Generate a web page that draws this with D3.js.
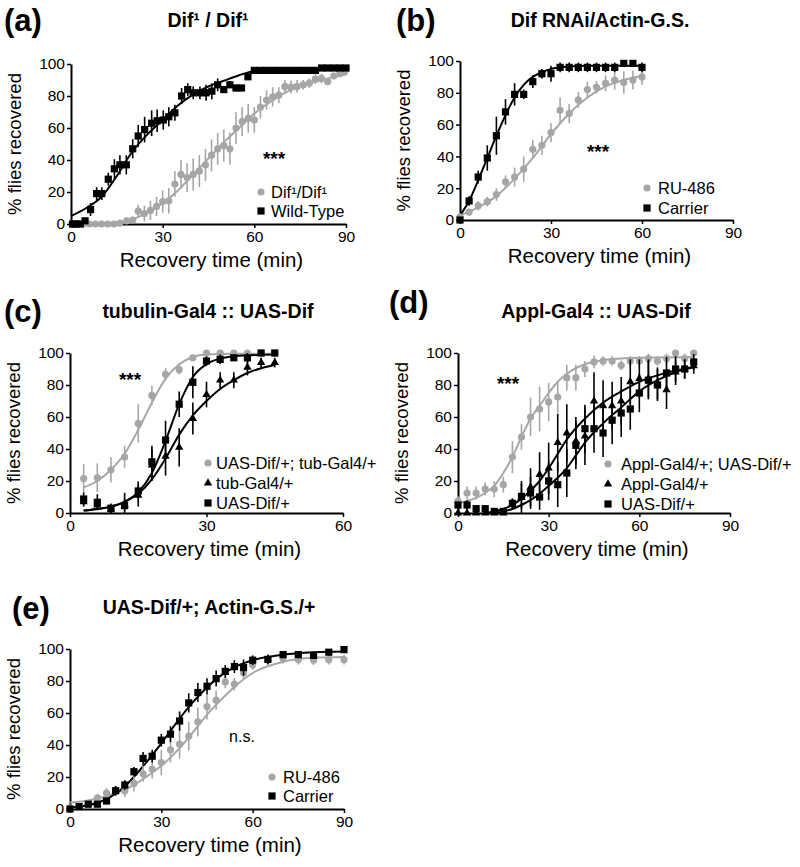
<!DOCTYPE html>
<html><head><meta charset="utf-8">
<script src="https://cdn.jsdelivr.net/npm/d3@7"></script>
<style>body{margin:0;background:#fff}</style>
</head><body>
<script>
// ---------- DATA ----------
// Panel (a) Dif1/Dif1
const aWT_x = [0.5,1.6,3,4.6,6.4,8.4,10.1,12.2,14.2,16,18.1,20.2,22,24.1,26.4,28.2,30.2,32,34,36.2,38.2,40,42.2,44.2,46.1,48,50,52,54,55.8,57.9,60,62,64,66,68,70,72,74,76,78,80,82,84,86,88,90];
const aWT_y = [0,0,0,2,9,19,19,28,34.5,37,37,47,55,59,63,64.5,65,67,69.5,80,84,82,82,82,83,87,84,87,85,85,92,96,96,96,96,96,96,96,96,96,96,96,97.5,97.5,97.5,97.5,97.5];
const aWT_e = [0,0,0,1,4,4,4,4,6,6,6,6,7,8,8,7,6,6,5,5,4,4,4,5,5,4,2,2,2,2,2,0,0,0,0,0,0,0,0,0,0,0,0,0,0,0,0];
const aDif_x = [0.5,2,4,6,8,10,12,14,16,18.2,20.2,22,24,26,28,30,32,34,36,38,40,42,44,46,48,50,52,54,56,58,60,62,64,66,68,70,72,74,76,78,80,82,84,86,88,89.5];
const aDif_y = [0,0,0,0,0,0,0,0,0.5,2,2.5,8,6.5,8.5,11,14,14.5,25,31,29,31,33,37,43,47,49,47,60,64,66,65,73,77.5,79.5,80.5,86,85.5,86,87,88,90.5,91,89,92.5,94,95];
const aDif_e = [0,0,0,0,0,0,0,0,1,2,2,4,5,6,6,7,8,8,9,9,10,10,10,10,10,10,10,10,9,9,8,7,6,6,5,4,4,4,3,3,3,3,2,2,2,2];
const aWT_fx = [0,5,10,15,20,25,30,35,40,45,50,55,60,70,80,90];
const aWT_fy = [5,10,17,30,45,56,65,74,81,86,89.5,93,95.5,96.5,97,97.5];
const aDif_fx = [0,10,15,20,25,30,35,40,45,50,55,60,65,70,75,80,85,90];
const aDif_fy = [0,0.3,1,3,7,13,21,31,41,51,60,69,76,82,86,89,91.5,93.5];

// Panel (b) Dif RNAi/Actin-G.S.
const b_x = [0,3,6,9,12,15,18,21,24,27,30,33,36,39,42,45,48,51,54,57,60];
const bCar_y = [0,12,27,39,53,68,79,79,87,92,92,96,96,96,96,96,96,96,98.5,98.5,96];
const bCar_e = [1,3,4,8,12,8,7,3,4,3,5,3,3,3,3,3,3,3,2,2,3];
const bRU_y = [2,5,9,11.5,16,24,27,32,44.5,47,55,69,67,75.5,82,83.5,86,88,86.5,88,90];
const bRU_e = [1,2,3,3,4,4,6,8,6,6,6,8,6,5,5,4,5,6,7,6,5];
const bCar_fx = [0,3,6,9,12,15,18,21,24,27,30,36,42,50,60];
const bCar_fy = [3,12,25,39,53,66,77,85,90,93,95,96.5,97,97,97];
const bRU_fx = [0,6,12,18,24,30,36,42,48,54,60];
const bRU_fy = [3,8,15,26,39,54,67,77,84,88,90.5];

// Panel (c) tubulin-Gal4 :: UAS-Dif
const c_x = [3,6,9,12,15,18,21,24,27,30,33,36,39,42,45];
const cExp_y = [21.5,22,27,35,56,73.5,86.7,89.6,97,100,100,100,100,100,100];
const cExp_e = [9,9,8,7,12,6,4,3,1,0,0,0,0,0,0];
const cTub_y = [7,5,2,5,11,30,35.4,41,59,74,83,83,91,94,94];
const cTub_e = [3,3,2,4,7,10,12,12,10,8,5,5,5,3,3];
const cUAS_y = [8.75,6.7,3,4.6,13.75,32,45.6,68,81.7,95,96,97,97,100,100];
const cUAS_e = [4,5,3,8,6,10,12,8,10,3,3,2,3,2,2];
const cExp_fx = [3,6,9,12,15,18,21,24,27,30,36,45];
const cExp_fy = [16,20,27,37,52,69,84,93,97.5,99,99.5,99.5];
const cTub_fx = [3,6,9,12,15,18,21,24,27,30,33,36,39,42,45];
const cTub_fy = [1.5,2.5,4,7,12,21,34,49,61,70,77.5,83,87.5,90.5,92.5];
const cUAS_fx = [3,6,9,12,15,18,21,24,27,30,33,36,45];
const cUAS_fy = [1.5,2.5,4,7,13,25,45,68,85,93,96.5,98,99];

// Panel (d) Appl-Gal4 :: UAS-Dif
const d_x = [0,3,6,9,12,15,18,21,24,27,30,33,36,39,42,45,48,51,54,57,60,63,66,69,72,75,78];
const dExp_y = [7.5,12.5,12.5,15,15,17.7,35,47.5,60,65,69.4,72.5,84.6,84.6,90,94.4,95,95,92.3,95,95,96.5,95,96.5,100,96.5,100];
const dExp_e = [3,4,4,4,5,5,10,8,12,14,12,10,8,8,5,4,3,3,3,3,3,3,3,3,2,3,2];
const dApp_y = [0,0,0,0,0,0,6,10,16,24,28,44,50,45,48,70,67,67,70,82,84,84,81,77,88,90,92];
const dApp_e = [1,1,1,1,1,1,3,10,12,14,16,18,18,15,18,18,16,15,15,14,12,12,10,12,8,6,5];
const dUAS_y = [5,5,2.7,2.7,1,1,6,10.4,12.5,10,20,17.7,25,42.3,52.7,52.7,50,58,62.5,65,75,83,80,87.5,90,90,94.4];
const dUAS_e = [2,3,2,2,1,1,3,8,10,8,12,14,15,15,15,15,15,15,15,13,12,12,10,10,8,6,5];
const dExp_fx = [0,3,6,9,12,15,18,21,24,27,30,33,36,42,48,54,60,78];
const dExp_fy = [6,7.5,9.5,12.5,17,25,35,47.5,59,67,75,82,87,93,95.5,96.5,97,97.5];
const dApp_fx = [9,12,15,18,21,24,27,30,33,36,42,48,54,60,66,72,78];
const dApp_fy = [0,1,2.5,5,9,14,20,28,37,46,59,69,76,82,86,89,91];
const dUAS_fx = [12,15,18,21,24,27,30,33,36,39,42,48,54,60,66,72,78];
const dUAS_fy = [0,1,2.5,5,8,12,17,22,28,36,44,56,66,76,83,88,91.5];

// Panel (e) UAS-Dif/+; Actin-G.S./+
const e_x = [0,3,6,9,12,15,18,21,24,27,30,33,36,39,42,45,48,51,54,57,60,65,70,75,80,85,90];
const eCar_y = [0,1.5,3,3,5,11.4,15,23.3,31.6,33,43,46.8,55,66.3,72.8,76.7,81.5,86,89,88.4,93,93.5,96.5,96.5,96,98,99.6];
const eCar_e = [1,1,1,1,2,3,3,3,4,4,4,5,6,6,6,5,5,4,4,5,3,3,2,2,2,2,1];
const eRU_y = [0.5,1.5,3,7,10,11.4,11.4,16,22,25,29,37,40.5,45.5,54.5,64,68,79.4,78,85,90,93,94,93.3,93,93.3,93.3];
const eRU_e = [1,1,1,2,3,3,4,5,5,6,8,8,9,9,9,8,6,4,4,4,3,3,3,3,3,3,3];
const eCar_fx = [0,5,10,15,20,25,30,35,40,45,50,55,60,70,80,90];
const eCar_fy = [1,2,4.5,9.5,18,29,41,54,66,76,84,89.5,93,96.5,98,98.5];
const eRU_fx = [0,5,10,15,20,25,30,35,40,45,50,55,60,70,80,90];
const eRU_fy = [4,5,7,10,14,20,27,36,47,59,69,78,85,92,94.5,95];

const xTicks90 = [0,30,60,90];
const xTicks60 = [0,30,60];
const yTicks = [0,20,40,60,80,100];

// ---------- DRAW ----------
const W = 800, H = 867;
const FONT = "'Liberation Sans', Arial, Helvetica, sans-serif";
const GRAY = "#a6a6a6", BLACK = "#000";
const svg = d3.select("body").append("svg").attr("width", W).attr("height", H)
  .style("font-family", FONT);

function sym(g, shape, cx, cy, color) {
  if (shape === "circle") {
    g.append("circle").attr("cx", cx).attr("cy", cy).attr("r", 3.6).attr("fill", color);
  } else if (shape === "square") {
    g.append("rect").attr("x", cx - 3.6).attr("y", cy - 3.6).attr("width", 7.2).attr("height", 7.2).attr("fill", color);
  } else {
    g.append("path").attr("transform", `translate(${cx},${cy})`)
      .attr("d", d3.symbol().type(d3.symbolTriangle).size(30)()).attr("fill", color);
  }
}

function panel(cfg) {
  const g = svg.append("g");
  const x = d3.scaleLinear().domain([0, cfg.xmax]).range([cfg.left, cfg.right]);
  const y = d3.scaleLinear().domain([0, 100]).range([cfg.bottom, cfg.top]);

  // panel letter and title
  g.append("text").attr("x", cfg.letterX).attr("y", cfg.letterY)
    .attr("font-size", 31).attr("font-weight", "bold").text(cfg.letter);
  g.append("text").attr("x", cfg.titleX).attr("y", cfg.titleY).attr("text-anchor", "middle")
    .attr("font-size", 19.5).attr("font-weight", "bold").text(cfg.title);

  // axes
  const ya = g.append("g").attr("transform", `translate(${cfg.left},0)`)
    .call(d3.axisLeft(y).tickValues(yTicks).tickSize(4).tickSizeOuter(0).tickPadding(2));
  const xa = g.append("g").attr("transform", `translate(0,${cfg.bottom})`)
    .call(d3.axisBottom(x).tickValues(cfg.xticks).tickSize(4).tickSizeOuter(0).tickPadding(3));
  [ya, xa].forEach(a => {
    a.select(".domain").attr("stroke-width", 2).attr("stroke", "#000");
    a.selectAll(".tick line").attr("stroke-width", 1.5).attr("stroke", "#000");
    a.selectAll("text").attr("font-size", 15.5).attr("font-family", FONT).attr("fill", "#000");
  });

  g.append("text").attr("x", (cfg.left + cfg.right) / 2 + 3).attr("y", cfg.bottom + 43)
    .attr("text-anchor", "middle").attr("font-size", 20.5).text("Recovery time (min)");
  g.append("text").attr("transform", `translate(${cfg.left - 50},${(cfg.top + cfg.bottom) / 2}) rotate(-90)`)
    .attr("text-anchor", "middle").attr("font-size", 18.5).text("% flies recovered");

  // series: fit curves, error bars, points
  const line = d3.line().x(d => x(d[0])).y(d => y(d[1])).curve(d3.curveMonotoneX);
  cfg.series.forEach(s => {
    g.append("path").datum(d3.zip(s.fx, s.fy)).attr("d", line)
      .attr("fill", "none").attr("stroke", s.color).attr("stroke-width", 2);
  });
  cfg.series.forEach(s => {
    s.xs.forEach((xv, i) => {
      const e = s.e[i];
      if (e > 0) {
        g.append("line").attr("x1", x(xv)).attr("x2", x(xv))
          .attr("y1", y(Math.min(100, s.ys[i] + e))).attr("y2", y(Math.max(0, s.ys[i] - e)))
          .attr("stroke", s.color).attr("stroke-width", 1.6);
      }
    });
    s.xs.forEach((xv, i) => sym(g, s.shape, x(xv), y(s.ys[i]), s.color));
  });

  // legend
  cfg.legend.items.forEach((it, i) => {
    const cy = cfg.legend.y + i * cfg.legend.dy;
    sym(g, it.shape, cfg.legend.x, cy, it.color);
    g.append("text").attr("x", cfg.legend.x + cfg.legend.tx).attr("y", cy + 6)
      .attr("font-size", 16.5).text(it.label);
  });

  // significance
  g.append("text").attr("x", cfg.sig.x).attr("y", cfg.sig.y).attr("text-anchor", "middle")
    .attr("font-size", cfg.sig.bold ? 19 : 16).attr("font-weight", cfg.sig.bold ? "bold" : "normal")
    .text(cfg.sig.text);
}

panel({
  letter: "(a)", letterX: 4, letterY: 31, title: "Dif¹ / Dif¹", titleX: 208, titleY: 27,
  left: 71, right: 346, top: 64, bottom: 224, xmax: 90, xticks: xTicks90,
  series: [
    {xs: aDif_x, ys: aDif_y, e: aDif_e, fx: aDif_fx, fy: aDif_fy, color: GRAY, shape: "circle"},
    {xs: aWT_x, ys: aWT_y, e: aWT_e, fx: aWT_fx, fy: aWT_fy, color: BLACK, shape: "square"}
  ],
  legend: {x: 261, y: 192, dy: 19, tx: 10, items: [
    {shape: "circle", color: GRAY, label: "Dif¹/Dif¹"},
    {shape: "square", color: BLACK, label: "Wild-Type"}]},
  sig: {x: 274, y: 165, text: "***", bold: true}
});

panel({
  letter: "(b)", letterX: 396, letterY: 31, title: "Dif RNAi/Actin-G.S.", titleX: 600, titleY: 27,
  left: 460, right: 733, top: 61, bottom: 220, xmax: 90, xticks: xTicks90,
  series: [
    {xs: b_x, ys: bRU_y, e: bRU_e, fx: bRU_fx, fy: bRU_fy, color: GRAY, shape: "circle"},
    {xs: b_x, ys: bCar_y, e: bCar_e, fx: bCar_fx, fy: bCar_fy, color: BLACK, shape: "square"}
  ],
  legend: {x: 647, y: 188, dy: 20, tx: 11, items: [
    {shape: "circle", color: GRAY, label: "RU-486"},
    {shape: "square", color: BLACK, label: "Carrier"}]},
  sig: {x: 598, y: 158, text: "***", bold: true}
});

panel({
  letter: "(c)", letterX: 4, letterY: 322, title: "tubulin-Gal4 :: UAS-Dif", titleX: 208, titleY: 318,
  left: 70, right: 343, top: 353, bottom: 513, xmax: 60, xticks: xTicks60,
  series: [
    {xs: c_x, ys: cExp_y, e: cExp_e, fx: cExp_fx, fy: cExp_fy, color: GRAY, shape: "circle"},
    {xs: c_x, ys: cTub_y, e: cTub_e, fx: cTub_fx, fy: cTub_fy, color: BLACK, shape: "triangle"},
    {xs: c_x, ys: cUAS_y, e: cUAS_e, fx: cUAS_fx, fy: cUAS_fy, color: BLACK, shape: "square"}
  ],
  legend: {x: 208, y: 463, dy: 20, tx: 8, items: [
    {shape: "circle", color: GRAY, label: "UAS-Dif/+; tub-Gal4/+"},
    {shape: "triangle", color: BLACK, label: "tub-Gal4/+"},
    {shape: "square", color: BLACK, label: "UAS-Dif/+"}]},
  sig: {x: 130, y: 386, text: "***", bold: true}
});

panel({
  letter: "(d)", letterX: 389, letterY: 313, title: "Appl-Gal4 :: UAS-Dif", titleX: 596, titleY: 318,
  left: 458, right: 730, top: 353, bottom: 513, xmax: 90, xticks: xTicks90,
  series: [
    {xs: d_x, ys: dExp_y, e: dExp_e, fx: dExp_fx, fy: dExp_fy, color: GRAY, shape: "circle"},
    {xs: d_x, ys: dApp_y, e: dApp_e, fx: dApp_fx, fy: dApp_fy, color: BLACK, shape: "triangle"},
    {xs: d_x, ys: dUAS_y, e: dUAS_e, fx: dUAS_fx, fy: dUAS_fy, color: BLACK, shape: "square"}
  ],
  legend: {x: 608, y: 464, dy: 20, tx: 13, items: [
    {shape: "circle", color: GRAY, label: "Appl-Gal4/+; UAS-Dif/+"},
    {shape: "triangle", color: BLACK, label: "Appl-Gal4/+"},
    {shape: "square", color: BLACK, label: "UAS-Dif/+"}]},
  sig: {x: 508, y: 390, text: "***", bold: true}
});

panel({
  letter: "(e)", letterX: 12, letterY: 619, title: "UAS-Dif/+; Actin-G.S./+", titleX: 209, titleY: 614,
  left: 70, right: 344, top: 649, bottom: 809, xmax: 90, xticks: xTicks90,
  series: [
    {xs: e_x, ys: eRU_y, e: eRU_e, fx: eRU_fx, fy: eRU_fy, color: GRAY, shape: "circle"},
    {xs: e_x, ys: eCar_y, e: eCar_e, fx: eCar_fx, fy: eCar_fy, color: BLACK, shape: "square"}
  ],
  legend: {x: 272, y: 777, dy: 19, tx: 11, items: [
    {shape: "circle", color: GRAY, label: "RU-486"},
    {shape: "square", color: BLACK, label: "Carrier"}]},
  sig: {x: 242, y: 742, text: "n.s.", bold: false}
});
</script>
</body></html>
